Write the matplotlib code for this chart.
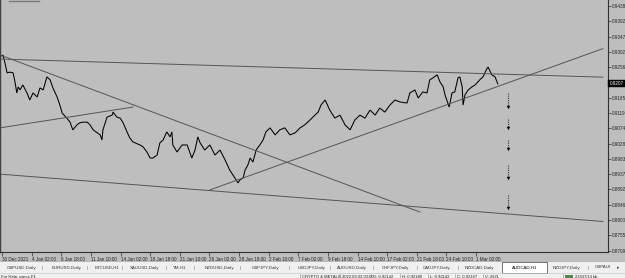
import matplotlib
matplotlib.use('Agg')
import matplotlib.pyplot as plt
from matplotlib.patches import Rectangle
from matplotlib.lines import Line2D

# ---------------- data (H1 bar index, price) ----------------
bars = [-2, 2, 6, 11, 17, 24, 28, 32, 35, 39, 45, 54, 60, 67, 76, 82, 89, 97, 104, 110,
        119, 125, 130, 140, 147, 153, 162, 168, 175, 184, 190, 197, 212, 216, 218, 227, 238, 240,
        248, 255, 261, 270, 276, 283, 298, 305, 313, 320, 326, 335, 341, 348, 356, 363, 367, 369,
        378, 389, 400, 410, 417, 423, 428, 438, 449, 460, 471, 482, 492, 503, 510, 514, 521, 525,
        531, 536, 542, 549, 557, 564, 570, 579, 590, 600, 611, 622, 633, 644, 654, 665, 676, 683,
        689, 698, 708, 719, 730, 741, 752, 762, 773, 784, 795, 806, 816, 827, 838, 849, 860, 875,
        881, 892, 899, 909, 918, 924, 931, 940, 946, 953, 957, 966, 972, 978, 985, 989, 994, 996,
        1000, 1007, 1015, 1022, 1032, 1039, 1048, 1050, 1058, 1065, 1071]
prices = [0.9289, 0.9292, 0.9271, 0.9239, 0.9241, 0.9239, 0.9212, 0.9179, 0.9197, 0.9188,
          0.9203, 0.9179, 0.9158, 0.9179, 0.9167, 0.9194, 0.9188, 0.9227, 0.9218, 0.9194,
          0.9167, 0.9143, 0.9119, 0.9104, 0.9092, 0.9069, 0.9084, 0.9090, 0.9092, 0.9092,
          0.9084, 0.9069, 0.9054, 0.9039, 0.9069, 0.9107, 0.9113, 0.9122, 0.9107, 0.9104,
          0.9092, 0.9063, 0.9045, 0.9033, 0.9024, 0.9018, 0.9003, 0.8985, 0.8985, 0.8994,
          0.9030, 0.9039, 0.9063, 0.9048, 0.9063, 0.9024, 0.9003, 0.9024, 0.9024, 0.8985,
          0.9009, 0.9048, 0.9030, 0.9009, 0.9024, 0.8994, 0.9009, 0.8979, 0.8949, 0.8926,
          0.8911, 0.8920, 0.8926, 0.8949, 0.8964, 0.8985, 0.8973, 0.9009, 0.9024, 0.9039,
          0.9063, 0.9075, 0.9054, 0.9069, 0.9075, 0.9054, 0.9060, 0.9075, 0.9084, 0.9098,
          0.9113, 0.9122, 0.9143, 0.9158, 0.9128, 0.9104, 0.9113, 0.9084, 0.9069, 0.9098,
          0.9113, 0.9104, 0.9128, 0.9113, 0.9134, 0.9122, 0.9143, 0.9158, 0.9152, 0.9149,
          0.9179, 0.9188, 0.9164, 0.9182, 0.9179, 0.9218, 0.9224, 0.9233, 0.9212, 0.9197,
          0.9173, 0.9137, 0.9179, 0.9182, 0.9224, 0.9227, 0.9197, 0.9143, 0.9173, 0.9188,
          0.9197, 0.9203, 0.9218, 0.9227, 0.9253, 0.9256, 0.9233, 0.9227, 0.9206]

# trendlines: (bar0, bar1) and (price0, price1)
trend_bars = [(-4, 1298), (-4, 903), (-4, 283), (449, 1298), (-4, 1298)]
trend_prices = [(0.9280, 0.9226), (0.9292, 0.8824), (0.9075, 0.9137), (0.8890, 0.9311), (0.8937, 0.8796)]

# signal arrows: bar, start price, end price
arrow_bar = 1093
arrow_start = [0.9179, 0.9101, 0.9039, 0.8964, 0.8875]
arrow_end = [0.9137, 0.9075, 0.9012, 0.8926, 0.8836]

price_ticks = [0.9438, 0.9392, 0.9347, 0.9302, 0.9256, 0.9165, 0.9119, 0.9074, 0.9028,
               0.8983, 0.8937, 0.8892, 0.8846, 0.8800, 0.8755, 0.8709]
current_price = 0.9207
current_label = "0.9207"

time_tick_bars = [0, 64, 128, 192, 256, 320, 384, 448, 512, 576, 640, 704, 768, 832, 896, 960, 1024]
time_labels = ["30 Dec 2021", "4 Jan 02:00", "6 Jan 18:00", "11 Jan 10:00", "14 Jan 02:00",
               "18 Jan 18:00", "21 Jan 10:00", "26 Jan 02:00", "28 Jan 18:00", "2 Feb 10:00",
               "7 Feb 02:00", "9 Feb 18:00", "14 Feb 10:00", "17 Feb 02:00", "21 Feb 18:00",
               "24 Feb 10:00", "1 Mar 02:00"]

tabs = ["GBPUSD,Daily", "EURUSD,Daily", "BTCUSD,H1", "XAUUSD,Daily", "YM,H1", "NZDUSD,Daily",
        "GBPJPY,Daily", "USDJPY,Daily", "AUDUSD,Daily", "CHFJPY,Daily", "CADJPY,Daily",
        "NZDCAD,Daily", "AUDCAD,H1", "NZDJPY,Daily", "GBPAUI"]
active_tab = "AUDCAD,H1"
status_items = ["CRYPTO & METALS", "2022.03.02 03:00", "O: 0.92142", "H: 0.92180",
                "L: 0.92142", "C: 0.92167", "V: 2621"]

# ---------------- layout ----------------
W, H = 625, 278
BG = '#bebebe'
FONT = 'Liberation Sans'
fig = plt.figure(figsize=(W / 100, H / 100), dpi=100, facecolor=BG)


def fx(x):
    return x / W


def fy(y):
    return 1 - y / H


ax = fig.add_axes([0, 26 / H, 608 / W, 252 / H])
ax.set_facecolor(BG)
ax.set_xlim(-4.3, 1309)
ax.set_ylim(0.8705, 0.9456)

ax.plot(bars, prices, color='black', lw=0.75, solid_joinstyle='miter')

for (b0, b1), (p0, p1) in zip(trend_bars, trend_prices):
    ax.plot([b0, b1], [p0, p1], color='#555555', lw=0.7)

for s, e in zip(arrow_start, arrow_end):
    ax.plot([arrow_bar, arrow_bar], [s, e], color='#333344', lw=0.8, ls=(0, (1, 1)))
    ax.plot([arrow_bar], [e], marker='v', color='black', ms=2.5, mew=0)

ax.spines['top'].set_visible(False)
ax.spines['left'].set_color('#404040')
ax.spines['left'].set_linewidth(1.0)
ax.spines['right'].set_color('#303030')
ax.spines['right'].set_linewidth(0.8)
ax.spines['bottom'].set_color('#303030')
ax.spines['bottom'].set_linewidth(0.8)

ax.yaxis.tick_right()
ax.set_yticks(price_ticks)
ax.set_yticklabels([f"{v:.4f}" for v in price_ticks], family=FONT)
ax.tick_params(axis='y', which='major', length=2, width=0.5, color='#303030',
               labelsize=3.3, pad=1, labelcolor='#222222')

ax.set_xticks(time_tick_bars)
ax.set_xticklabels(time_labels, ha='left', family=FONT)
ax.tick_params(axis='x', which='major', length=3, width=0.5, color='#303030',
               labelsize=3.3, pad=0.8, labelcolor='#222222', direction='out')

ax.annotate(current_label, xy=(1.0, current_price), xycoords=('axes fraction', 'data'),
            xytext=(1.2, 0), textcoords='offset points', ha='left', va='center',
            fontsize=3.3, color='white', family=FONT,
            bbox=dict(boxstyle='square,pad=0.3', fc='black', ec='black', lw=0.3),
            annotation_clip=False)

fig.add_artist(Line2D([fx(9), fx(39)], [fy(0.5), fy(0.5)], color='#7a7a7a', lw=1.0))

# tab bar and status bar
fig.add_artist(Rectangle((0, 0), 1, fy(261), transform=fig.transFigure,
                         fc='#f0f0f0', ec='none'))
fig.add_artist(Line2D([0, 1], [fy(261), fy(261)], color='#a0a0a0', lw=0.5))
fig.add_artist(Line2D([0, 1], [fy(273), fy(273)], color='#c8c8c8', lw=0.5))

tab_x = [7, 52, 95, 130, 173, 205, 252, 298, 337, 382, 423, 465, 512, 553, 595]
sep_x = [42, 87, 122, 166, 194, 240, 289, 330, 373, 417, 458, 588]
for t, x in zip(tabs, tab_x):
    if t == active_tab:
        fig.add_artist(Rectangle((fx(502), fy(273)), fx(547) - fx(502), fy(261.5) - fy(273),
                                 transform=fig.transFigure, fc='white', ec='#404040', lw=0.5))
    fig.text(fx(x), fy(267.5), t, fontsize=3.2, color='#333333' if t != active_tab else '#000000',
             ha='left', va='center', family=FONT)
for x in sep_x:
    fig.text(fx(x), fy(267.5), "|", fontsize=3.2, color='#666666', ha='center', va='center', family=FONT)
fig.text(fx(618), fy(267.5), "\u25b8", fontsize=3.4, color='#444444', ha='center', va='center',
         family='DejaVu Sans')

fig.text(fx(1), fy(274.8), "For Help, press F1", fontsize=3.1, color='#222222', ha='left', va='top',
         family=FONT)
status_x = [302, 342, 373, 402, 430, 457, 485]
for s, x in zip(status_items, status_x):
    fig.text(fx(x), fy(274.8), s, fontsize=3.0, color='#222222', ha='left', va='top', family=FONT)
fig.add_artist(Rectangle((fx(565), fy(278)), fx(8), fy(274.5) - fy(278),
                         transform=fig.transFigure, fc='#4a8a4a', ec='none'))
fig.text(fx(575), fy(274.8), "23437/14 kb", fontsize=3.0, color='#222222', ha='left', va='top',
         family=FONT)
for x in [300, 340, 371, 400, 428, 455, 483, 563]:
    fig.add_artist(Line2D([fx(x), fx(x)], [fy(274), fy(278)], color='#a0a0a0', lw=0.5))

fig.savefig('out.png', dpi=100, facecolor=BG)
